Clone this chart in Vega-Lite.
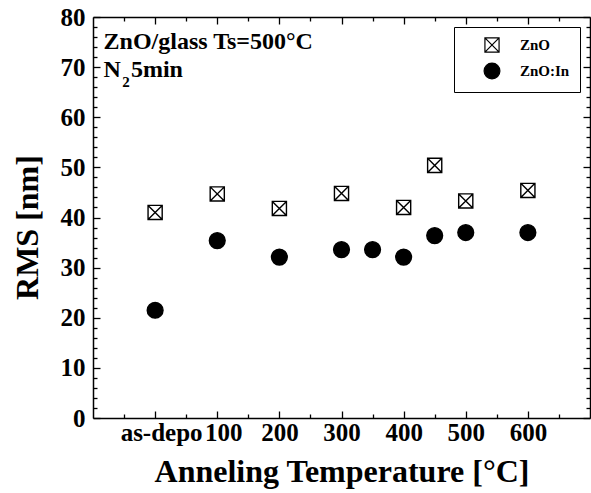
{
  "$schema": "https://vega.github.io/schema/vega-lite/v6.json",
  "width": 497,
  "height": 401,
  "autosize": {"type": "none"},
  "padding": {"left": 93, "top": 17, "right": 1, "bottom": 75},
  "background": "white",
  "config": {
    "view": {"stroke": null},
    "font": "Liberation Serif",
    "axis": {
      "grid": false,
      "domainColor": "black",
      "domainWidth": 1.5,
      "tickColor": "black",
      "tickWidth": 1.3,
      "labelColor": "black",
      "labelFont": "Liberation Serif",
      "labelFontWeight": "bold",
      "labelFontSize": 25,
      "labelOverlap": false,
      "labelFlush": false,
      "titleColor": "black",
      "titleFont": "Liberation Serif",
      "titleFontWeight": "bold",
      "titleFontSize": 32
    }
  },
  "datasets": {
    "rms": [
      {"t": 0, "series": "ZnO", "rms": 41.0},
      {"t": 100, "series": "ZnO", "rms": 44.7},
      {"t": 200, "series": "ZnO", "rms": 41.8},
      {"t": 300, "series": "ZnO", "rms": 44.8},
      {"t": 400, "series": "ZnO", "rms": 42.0},
      {"t": 450, "series": "ZnO", "rms": 50.4},
      {"t": 500, "series": "ZnO", "rms": 43.3},
      {"t": 600, "series": "ZnO", "rms": 45.4},
      {"t": 0, "series": "ZnO:In", "rms": 21.5},
      {"t": 100, "series": "ZnO:In", "rms": 35.4},
      {"t": 200, "series": "ZnO:In", "rms": 32.1},
      {"t": 300, "series": "ZnO:In", "rms": 33.6},
      {"t": 350, "series": "ZnO:In", "rms": 33.6},
      {"t": 400, "series": "ZnO:In", "rms": 32.1},
      {"t": 450, "series": "ZnO:In", "rms": 36.4},
      {"t": 500, "series": "ZnO:In", "rms": 37.0},
      {"t": 600, "series": "ZnO:In", "rms": 37.0}
    ],
    "notes": [
      {"role": "main", "label": "ZnO/glass Ts=500°C", "t": -83, "rms": 73.6},
      {"role": "main", "label": "N", "t": -83, "rms": 68.1},
      {"role": "main", "label": "5min", "t": -39, "rms": 68.1},
      {"role": "sub", "label": "2", "t": -53, "rms": 66.1}
    ]
  },
  "layer": [
    {
      "data": {"name": "rms"},
      "transform": [{"filter": "datum.series === 'ZnO'"}],
      "mark": {"type": "point", "filled": true, "stroke": "black", "strokeWidth": 1.4, "opacity": 1},
      "encoding": {
        "x": {
          "field": "t", "type": "quantitative",
          "scale": {"domain": [-100, 700], "nice": false, "zero": false},
          "axis": {
            "orient": "bottom",
            "values": [-50, 0, 50, 100, 150, 200, 250, 300, 350, 400, 450, 500, 550, 600, 650],
            "labelExpr": "datum.value === 0 ? 'as-depo' : (datum.value % 100 === 0 ? datum.label : '')",
            "labelOffset": {"condition": {"test": "datum.value <= 100", "value": 6}, "value": 0},
            "tickSize": {"condition": {"test": "datum.value % 100 === 0", "value": -7}, "value": -4},
            "labelPadding": 9,
            "title": "Anneling Temperature [°C]",
            "titlePadding": 8
          }
        },
        "y": {
          "field": "rms", "type": "quantitative",
          "scale": {"domain": [0, 80], "nice": false},
          "axis": {
            "orient": "left",
            "values": [0, 2, 4, 6, 8, 10, 12, 14, 16, 18, 20, 22, 24, 26, 28, 30, 32, 34, 36, 38, 40, 42, 44, 46, 48, 50, 52, 54, 56, 58, 60, 62, 64, 66, 68, 70, 72, 74, 76, 78, 80],
            "labelExpr": "datum.value % 10 === 0 ? datum.label : ''",
            "tickSize": {"condition": {"test": "datum.value % 10 === 0", "value": -7}, "value": -4},
            "labelPadding": 15,
            "title": "RMS [nm]",
            "titleY": 210,
            "titlePadding": 16
          }
        },
        "shape": {
          "field": "series", "type": "nominal",
          "scale": {"domain": ["ZnO", "ZnO:In"], "range": ["M-1,-1L1,-1L1,1L-1,1ZM-1,-1L1,1M1,-1L-1,1", "circle"]},
          "legend": {
            "title": null,
            "orient": "none",
            "legendX": 361,
            "legendY": 10,
            "fillColor": "white",
            "strokeColor": "black",
            "padding": 10,
            "symbolOffset": 19,
            "labelOffset": 19,
            "rowPadding": 5,
            "labelFont": "Liberation Serif",
            "labelFontWeight": "bold",
            "labelFontSize": 15,
            "labelColor": "black",
            "symbolStrokeColor": "black",
            "symbolStrokeWidth": 1.2,
            "encode": {
              "symbols": {"update": {"size": {"signal": "datum.value === 'ZnO' ? 121 : 225"}}},
              "legend": {"update": {"strokeWidth": {"value": 1.3}}}
            }
          }
        },
        "fill": {
          "field": "series", "type": "nominal",
          "scale": {"domain": ["ZnO", "ZnO:In"], "range": ["white", "black"]}
        },
        "size": {
          "field": "series", "type": "nominal",
          "scale": {"domain": ["ZnO", "ZnO:In"], "range": [200, 250]}
        }
      }
    },
    {
      "data": {"name": "rms"},
      "transform": [{"filter": "datum.series === 'ZnO:In'"}],
      "mark": {"type": "point", "filled": true, "stroke": "black", "strokeWidth": 1.4, "opacity": 1},
      "encoding": {
        "x": {
          "field": "t", "type": "quantitative",
          "scale": {"domain": [-100, 700], "nice": false, "zero": false},
          "axis": {
            "orient": "top",
            "values": [-50, 0, 50, 100, 150, 200, 250, 300, 350, 400, 450, 500, 550, 600, 650],
            "labels": false,
            "tickSize": {"condition": {"test": "datum.value % 100 === 0", "value": -7}, "value": -4},
            "title": null
          }
        },
        "y": {
          "field": "rms", "type": "quantitative",
          "scale": {"domain": [0, 80], "nice": false},
          "axis": {
            "orient": "right",
            "values": [0, 2, 4, 6, 8, 10, 12, 14, 16, 18, 20, 22, 24, 26, 28, 30, 32, 34, 36, 38, 40, 42, 44, 46, 48, 50, 52, 54, 56, 58, 60, 62, 64, 66, 68, 70, 72, 74, 76, 78, 80],
            "labels": false,
            "tickSize": {"condition": {"test": "datum.value % 10 === 0", "value": -7}, "value": -4},
            "title": null
          }
        },
        "shape": {"field": "series", "type": "nominal"},
        "fill": {"field": "series", "type": "nominal"},
        "size": {"field": "series", "type": "nominal"}
      }
    },
    {
      "data": {"name": "notes"},
      "transform": [{"filter": "datum.role === 'main'"}],
      "mark": {"type": "text", "align": "left", "baseline": "alphabetic", "font": "Liberation Serif", "fontWeight": "bold", "fontSize": 24, "color": "black"},
      "encoding": {
        "x": {"field": "t", "type": "quantitative", "axis": null},
        "y": {"field": "rms", "type": "quantitative", "axis": null},
        "text": {"field": "label"}
      }
    },
    {
      "data": {"name": "notes"},
      "transform": [{"filter": "datum.role === 'sub'"}],
      "mark": {"type": "text", "align": "left", "baseline": "alphabetic", "font": "Liberation Serif", "fontWeight": "bold", "fontSize": 15, "color": "black"},
      "encoding": {
        "x": {"field": "t", "type": "quantitative", "axis": null},
        "y": {"field": "rms", "type": "quantitative", "axis": null},
        "text": {"field": "label"}
      }
    }
  ],
  "resolve": {"axis": {"x": "independent", "y": "independent"}}
}
